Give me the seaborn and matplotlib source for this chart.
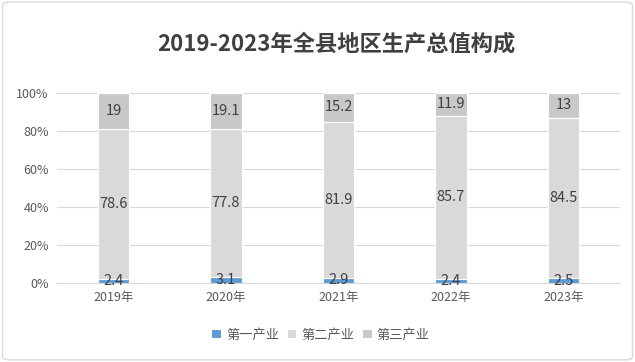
import numpy as np
import pandas as pd
import matplotlib.pyplot as plt
import seaborn as sns
from matplotlib.patches import FancyBboxPatch

years = ["2019年", "2020年", "2021年", "2022年", "2023年"]
primary = [2.4, 3.1, 2.9, 2.4, 2.5]
secondary = [78.6, 77.8, 81.9, 85.7, 84.5]
tertiary = [19, 19.1, 15.2, 11.9, 13]
series_names = ["第一产业", "第二产业", "第三产业"]
colors = ["#5B9BD5", "#D9D9D9", "#C8C8C8"]

df = pd.DataFrame({"year": years, "p": primary, "s": secondary, "t": tertiary})

sns.set_style("white")
plt.rcParams['font.family'] = ['Noto Sans CJK SC', 'DejaVu Sans']

fig = plt.figure(figsize=(6.35, 3.62), dpi=100)
ax = fig.add_axes([0.09, 0.218, 0.886, 0.525])

# border around chart
fig.patches.append(FancyBboxPatch((0.004, 0.006), 0.992, 0.988, boxstyle="round,pad=0,rounding_size=0.01",
                                  transform=fig.transFigure, facecolor="none", edgecolor="#D9D9D9", lw=1))

bottom = np.zeros(len(years))
for col, name, c in zip(["p", "s", "t"], series_names, colors):
    sns.barplot(data=df, x="year", y=col, bottom=bottom, color=c, width=0.28, saturation=1,
                edgecolor="white", linewidth=0.8, label=name, ax=ax, zorder=3)
    for i, v in enumerate(df[col]):
        ax.text(i, bottom[i] + v / 2, f"{v:g}", ha="center", va="center",
                fontsize=10.5, color="#404040", zorder=4)
    bottom = bottom + df[col].values

ax.set_ylim(0, 100)
ax.set_xlim(-0.5, 4.5)
ax.set_yticks([0, 20, 40, 60, 80, 100])
ax.set_yticklabels([f"{t}%" for t in [0, 20, 40, 60, 80, 100]])
ax.yaxis.grid(True, color="#D9D9D9", lw=0.8, zorder=0)
ax.set_xlabel("")
ax.set_ylabel("")
for s in ["top", "right", "left"]:
    ax.spines[s].set_visible(False)
ax.spines["bottom"].set_color("#D9D9D9")
ax.tick_params(axis="both", length=0, labelsize=9, colors="#595959", pad=6)

fig.suptitle("2019-2023年全县地区生产总值构成", x=0.53, y=0.91, fontsize=16,
             fontweight="bold", color="#404040")

handles, labels = ax.get_legend_handles_labels()
if ax.get_legend() is not None:
    ax.get_legend().remove()
fig.legend(handles, labels, loc="center", bbox_to_anchor=(0.505, 0.075), ncol=3,
           frameon=False, fontsize=9.5, handlelength=0.7, handleheight=0.7,
           handletextpad=0.4, columnspacing=0.6, labelcolor="#595959")

fig.savefig("out.png", dpi=100)
